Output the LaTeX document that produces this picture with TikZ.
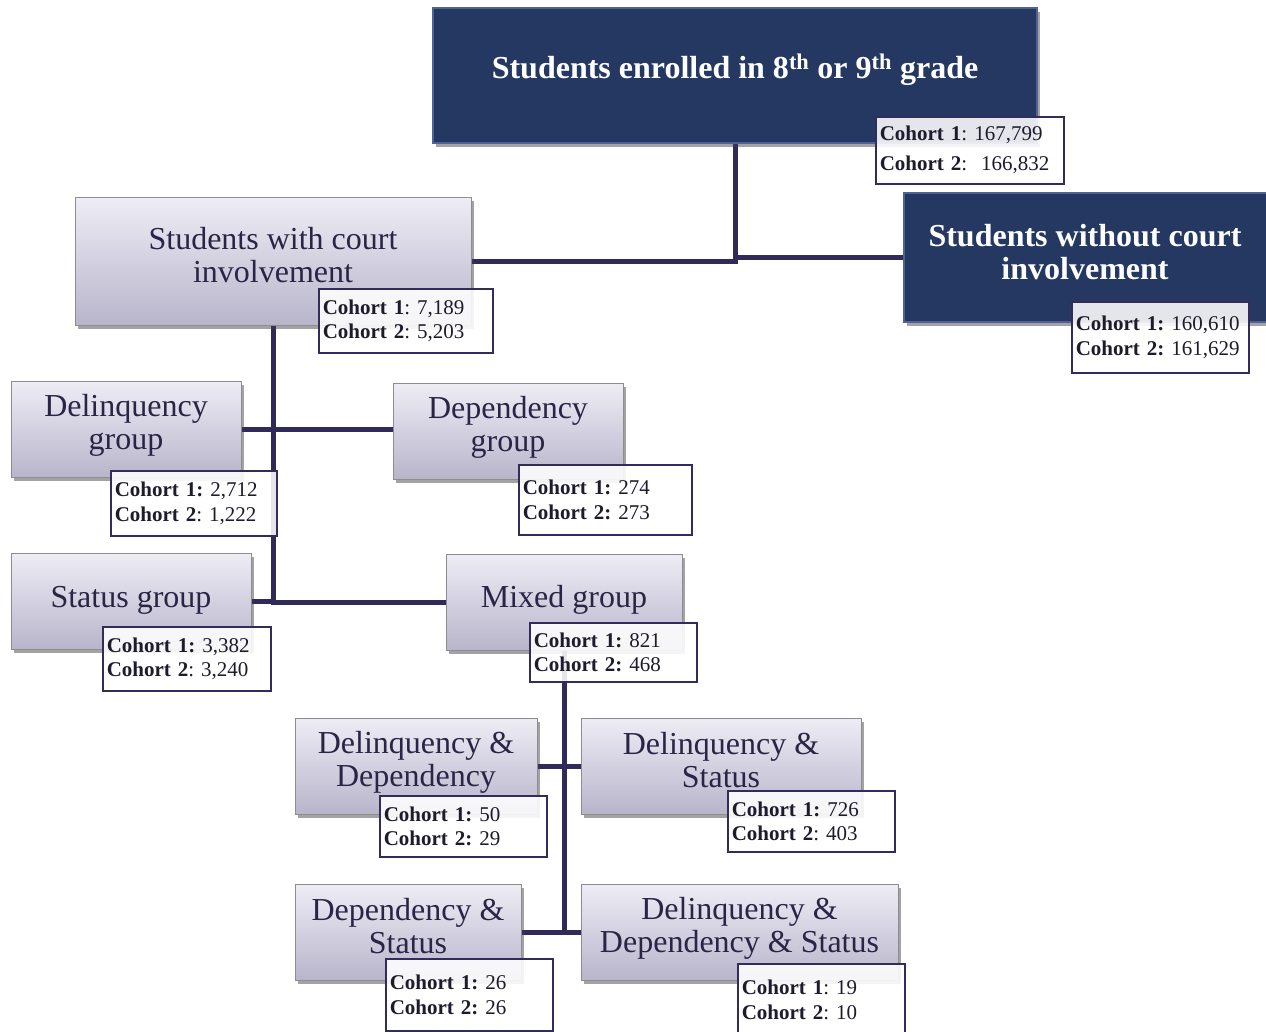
\documentclass[tikz,border=0pt]{standalone}
\usepackage{fontspec}
\setmainfont{Liberation Serif}
\usetikzlibrary{shadows}
\definecolor{navy}{RGB}{36,56,98}
\definecolor{navyedge}{RGB}{80,98,145}
\definecolor{conncol}{RGB}{47,42,87}
\definecolor{txt}{RGB}{42,37,70}
\definecolor{gtop}{RGB}{238,237,245}
\definecolor{gbot}{RGB}{184,181,203}
\definecolor{gedge}{RGB}{140,140,145}
\definecolor{lbledge}{RGB}{50,44,90}
\definecolor{lbltxt}{RGB}{30,27,45}
\frenchspacing
\begin{document}
\begin{tikzpicture}[x=1pt,y=-1pt,
  conn/.style={draw=conncol, line width=5pt},
  shadowed/.style={drop shadow={shadow xshift=3pt, shadow yshift=-4pt, opacity=0.3, fill=black!70}},
  gbox/.style={rectangle, draw=gedge, line width=1pt, top color=gtop, bottom color=gbot, shadowed},
  nbox/.style={rectangle, draw=navyedge, line width=1.2pt, fill=navy, shadowed},
  gtext/.style={align=center, text=txt, font=\fontsize{32}{33}\selectfont, inner sep=0pt},
  ntext/.style={align=center, text=white, font=\fontsize{32}{33}\selectfont\bfseries, inner sep=0pt},
  lbl/.style={rectangle, draw=lbledge, line width=1.5pt, fill=white, fill opacity=0.88, text opacity=1, draw opacity=1, align=left, text=lbltxt, font=\fontsize{21}{24.5}\selectfont, inner sep=4pt, anchor=north west}
]
\useasboundingbox (0,0) rectangle (1266,1031);

% boxes
\node[nbox, minimum width=604, minimum height=135] (top) at (735,75.5) {};
\node[nbox, minimum width=366, minimum height=129] (right) at (1087,257.5) {};
\node[gbox, minimum width=396, minimum height=128] (court) at (273,261) {};
\node[gbox, minimum width=230, minimum height=96] (delinq) at (126,429) {};
\node[gbox, minimum width=230, minimum height=96] (depend) at (508,431) {};
\node[gbox, minimum width=240, minimum height=96] (status) at (131,601) {};
\node[gbox, minimum width=236, minimum height=96] (mixed) at (564,602) {};
\node[gbox, minimum width=242, minimum height=96] (dd) at (416,766) {};
\node[gbox, minimum width=280, minimum height=96] (ds) at (721,766) {};
\node[gbox, minimum width=226, minimum height=96] (deps) at (408,932) {};
\node[gbox, minimum width=317, minimum height=96] (dds) at (739.5,932) {};

% connectors
\draw[conn] (court.east) -| (top.south);
\draw[conn] (top.south |- right.west) -- (right.west);
\draw[conn] (court.south) |- (mixed.west);
\draw[conn] (delinq.east) -- (delinq.east -| depend.west);
\draw[conn] (status.east) -- (status.east -| court.south);
\draw[conn] (mixed.south) |- (dds.west);
\draw[conn] (dd.east) -- (ds.west);
\draw[conn] (deps.east) -- (deps.east -| mixed.south);

% redraw boxes on top of connectors
\node[gbox, minimum width=396, minimum height=128] at (court) {};
\node[gbox, minimum width=230, minimum height=96] at (delinq) {};
\node[gbox, minimum width=230, minimum height=96] at (depend) {};
\node[gbox, minimum width=240, minimum height=96] at (status) {};
\node[gbox, minimum width=236, minimum height=96] at (mixed) {};
\node[gbox, minimum width=242, minimum height=96] at (dd) {};
\node[gbox, minimum width=280, minimum height=96] at (ds) {};
\node[gbox, minimum width=226, minimum height=96] at (deps) {};
\node[gbox, minimum width=317, minimum height=96] at (dds) {};
\node[nbox, minimum width=604, minimum height=135] at (top) {};
\node[nbox, minimum width=366, minimum height=129] at (right) {};

% texts
\node[ntext] (topT) at (735,70) {Students enrolled in 8\textsuperscript{th} or 9\textsuperscript{th} grade};
\node[ntext] (rightT) at (1085,252.5) {Students without court\\involvement};
\node[gtext] (courtT) at (273,255) {Students with court\\involvement};
\node[gtext] (delinqT) at (126,425.5) {Delinquency\\group};
\node[gtext] (dependT) at (508,427) {Dependency\\group};
\node[gtext] (statusT) at (131,600) {Status group};
\node[gtext] (mixedT) at (564,600) {Mixed group};
\node[gtext] (ddT) at (416,762) {Delinquency \&\\Dependency};
\node[gtext] (dsT) at (721,760) {Delinquency \&\\Status};
\node[gtext] (depsT) at (408,926) {Dependency \&\\Status};
\node[gtext] (ddsT) at (739.5,928) {Delinquency \&\\Dependency \& Status};

% labels
\node[lbl, font=\fontsize{21}{30}\selectfont, minimum width=188, minimum height=67, text width=180] (topL) at (875,116)
  {\textbf{Cohort 1}: 167,799\\\textbf{Cohort 2}:\ \ 166,832};
\node[lbl, minimum width=174, minimum height=64, text width=166] (courtL) at (318,288)
  {\textbf{Cohort 1}: 7,189\\\textbf{Cohort 2}: 5,203};
\node[lbl, minimum width=177, minimum height=71, text width=169] (rightL) at (1071,301)
  {\textbf{Cohort 1:} 160,610\\\textbf{Cohort 2:} 161,629};
\node[lbl, minimum width=166, minimum height=65, text width=158] (delinqL) at (110,470)
  {\textbf{Cohort 1:} 2,712\\\textbf{Cohort 2}: 1,222};
\node[lbl, minimum width=173, minimum height=70, text width=165] (dependL) at (518,464)
  {\textbf{Cohort 1:} 274\\\textbf{Cohort 2:} 273};
\node[lbl, minimum width=168, minimum height=64, text width=160] (statusL) at (102,626)
  {\textbf{Cohort 1:} 3,382\\\textbf{Cohort 2}: 3,240};
\node[lbl, minimum width=167, minimum height=59, text width=159] (mixedL) at (529,622)
  {\textbf{Cohort 1:} 821\\\textbf{Cohort 2:} 468};
\node[lbl, minimum width=167, minimum height=61, text width=159] (ddL) at (379,795)
  {\textbf{Cohort 1:} 50\\\textbf{Cohort 2:} 29};
\node[lbl, minimum width=167, minimum height=61, text width=159] (dsL) at (727,790)
  {\textbf{Cohort 1:} 726\\\textbf{Cohort 2}: 403};
\node[lbl, minimum width=167, minimum height=72, text width=159] (depsL) at (385,958)
  {\textbf{Cohort 1:} 26\\\textbf{Cohort 2:} 26};
\node[lbl, minimum width=167, minimum height=72, text width=159] (ddsL) at (737,963)
  {\textbf{Cohort 1}: 19\\\textbf{Cohort 2}: 10};
\end{tikzpicture}
\end{document}
